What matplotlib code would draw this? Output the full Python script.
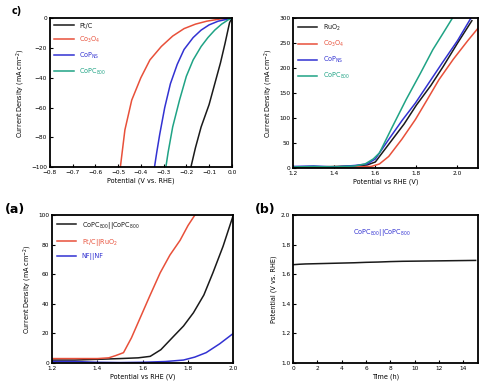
import numpy as np
import matplotlib.pyplot as plt

# HER polarisation curves (panel c)
her_ptc_x = [0, -0.01, -0.03, -0.05, -0.075, -0.10, -0.135, -0.16, -0.18]
her_ptc_y = [0, -3, -17, -30, -44, -58, -73, -87, -100]
her_red_x = [0, -0.05, -0.11, -0.16, -0.21, -0.26, -0.31, -0.36, -0.40, -0.44, -0.47, -0.49]
her_red_y = [0, -0.5, -2, -4, -7, -12, -19, -28, -40, -55, -75, -100]
her_blue_x = [0, -0.06, -0.10, -0.135, -0.17, -0.21, -0.24, -0.27, -0.295, -0.317, -0.33, -0.34]
her_blue_y = [0, -2, -4.5, -8, -13, -21, -31, -44, -60, -78, -90, -100]
her_teal_x = [0, -0.015, -0.045, -0.075, -0.105, -0.135, -0.17, -0.2, -0.23, -0.26, -0.28, -0.29]
her_teal_y = [0, -1, -4, -8, -13, -19, -28, -39, -55, -73, -90, -100]

# OER polarisation curves (top right)
oer_teal_x = [1.2, 1.3, 1.4, 1.5, 1.55, 1.59, 1.62, 1.68, 1.75, 1.82, 1.88, 1.93, 1.975]
oer_teal_y = [2, 3, 2, 4, 8, 18, 30, 80, 137, 190, 237, 270, 300]
oer_blue_x = [1.2, 1.3, 1.4, 1.5, 1.56, 1.6, 1.665, 1.73, 1.795, 1.86, 1.925, 2.0, 2.065]
oer_blue_y = [3, 4, 2, 5, 8, 18, 57, 95, 130, 170, 210, 255, 300]
oer_ruo2_x = [1.2, 1.3, 1.4, 1.5, 1.56, 1.6, 1.67, 1.74, 1.80, 1.87, 1.93, 2.0, 2.07]
oer_ruo2_y = [1, 2, 3, 4, 6, 12, 50, 88, 126, 165, 203, 250, 295]
oer_red_x = [1.2, 1.3, 1.4, 1.5, 1.58, 1.62, 1.665, 1.73, 1.795, 1.85, 1.91, 1.98, 2.05, 2.1]
oer_red_y = [0, 1, 1, 2, 3, 8, 23, 58, 97, 135, 177, 218, 255, 280]

# overall water splitting (panel a)
ws_black_x = [1.2, 1.3, 1.4, 1.5, 1.58, 1.633, 1.68, 1.736, 1.78, 1.824, 1.87, 1.91, 1.955, 2.0]
ws_black_y = [2, 2, 2.5, 3, 3.5, 4.5, 9, 18, 25, 34, 46, 61, 79, 100]
ws_red_x = [1.2, 1.3, 1.4, 1.45, 1.48, 1.515, 1.55, 1.59, 1.63, 1.677, 1.72, 1.765, 1.80, 1.83]
ws_red_y = [3, 3, 3, 3.5, 5, 7, 17, 31, 45, 61, 73, 83, 93, 100]
ws_blue_x = [1.2, 1.3, 1.4, 1.5, 1.6, 1.7, 1.78, 1.83, 1.88, 1.94, 2.0]
ws_blue_y = [1, 1, 0.5, 0.3, 0.5, 1, 2, 4, 7, 13, 20]

# stability test (panel b)
time_h = [0, 0.5, 1, 2, 3, 4, 5, 6, 7, 8, 9, 10, 11, 12, 13, 14, 15]
volt = [1.665, 1.668, 1.670, 1.672, 1.674, 1.676, 1.678, 1.681, 1.683, 1.686,
        1.688, 1.689, 1.690, 1.691, 1.692, 1.693, 1.694]

BLACK = '#1a1a1a'
RED = '#e8503a'
BLUE = '#3232d2'
TEAL = '#1fa385'

plt.rcParams['font.family'] = 'DejaVu Sans'
fs = 4.2

fig = plt.figure(figsize=(4.79, 3.87), dpi=100)
ax1 = fig.add_axes([0.104, 0.568, 0.380, 0.385])
ax2 = fig.add_axes([0.612, 0.566, 0.386, 0.387])
ax3 = fig.add_axes([0.109, 0.062, 0.378, 0.382])
ax4 = fig.add_axes([0.612, 0.062, 0.386, 0.382])


def style(ax):
    for s in ax.spines.values():
        s.set_linewidth(1.3)
    ax.tick_params(direction='in', labelsize=fs, width=0.8, length=2.5, pad=2)


# panel c
ax1.plot(her_ptc_x, her_ptc_y, color=BLACK, lw=1.1, label='Pt/C')
ax1.plot(her_red_x, her_red_y, color=RED, lw=1.1, label='Co$_3$O$_4$')
ax1.plot(her_blue_x, her_blue_y, color=BLUE, lw=1.1, label='CoP$_{\\rm NS}$')
ax1.plot(her_teal_x, her_teal_y, color=TEAL, lw=1.1, label='CoPC$_{\\rm 800}$')
ax1.set_xlim(-0.8, 0.0)
ax1.set_ylim(-100, 0)
ax1.set_xticks(np.arange(-0.8, 0.01, 0.1))
ax1.set_yticks([-100, -80, -60, -40, -20, 0])
ax1.set_xlabel('Potential (V vs. RHE)', fontsize=fs + 0.5, labelpad=2)
ax1.set_ylabel('Current Density (mA cm$^{-2}$)', fontsize=fs + 0.5, labelpad=3)
ax1.legend(loc='upper left', fontsize=fs + 0.5, frameon=False, handlelength=3,
           labelcolor='linecolor', borderaxespad=0.3, labelspacing=0.9)
style(ax1)

# OER
ax2.plot(oer_ruo2_x, oer_ruo2_y, color=BLACK, lw=1.1, label='RuO$_2$')
ax2.plot(oer_red_x, oer_red_y, color=RED, lw=1.1, label='Co$_3$O$_4$')
ax2.plot(oer_blue_x, oer_blue_y, color=BLUE, lw=1.1, label='CoP$_{\\rm NS}$')
ax2.plot(oer_teal_x, oer_teal_y, color=TEAL, lw=1.1, label='CoPC$_{\\rm 800}$')
ax2.set_xlim(1.2, 2.1)
ax2.set_ylim(0, 300)
ax2.set_xticks([1.2, 1.4, 1.6, 1.8, 2.0])
ax2.set_yticks([0, 50, 100, 150, 200, 250, 300])
ax2.set_xlabel('Potential vs RHE (V)', fontsize=fs + 0.5, labelpad=2)
ax2.set_ylabel('Current Density (mA cm$^{-2}$)', fontsize=fs + 0.5, labelpad=3)
ax2.legend(loc='upper left', fontsize=fs + 0.5, frameon=False, handlelength=3,
           labelcolor='linecolor', borderaxespad=0.3, labelspacing=0.9)
style(ax2)

# panel a
ax3.plot(ws_black_x, ws_black_y, color=BLACK, lw=1.1,
         label='CoPC$_{800}$||CoPC$_{800}$')
ax3.plot(ws_red_x, ws_red_y, color=RED, lw=1.1, label='Pt/C||RuO$_2$')
ax3.plot(ws_blue_x, ws_blue_y, color=BLUE, lw=1.1, label='NF||NF')
ax3.set_xlim(1.2, 2.0)
ax3.set_ylim(0, 100)
ax3.set_xticks([1.2, 1.4, 1.6, 1.8, 2.0])
ax3.set_yticks([0, 20, 40, 60, 80, 100])
ax3.set_xlabel('Potential vs RHE (V)', fontsize=fs + 0.5, labelpad=2)
ax3.set_ylabel('Current Density (mA cm$^{-2}$)', fontsize=fs + 0.5, labelpad=3)
ax3.legend(loc='upper left', fontsize=fs + 0.5, frameon=False, handlelength=3,
           labelcolor='linecolor', borderaxespad=0.3, labelspacing=0.9)
style(ax3)

# panel b
ax4.plot(time_h, volt, color=BLACK, lw=1.1)
ax4.set_xlim(0, 15.2)
ax4.set_ylim(1.0, 2.0)
ax4.set_xticks([0, 2, 4, 6, 8, 10, 12, 14])
ax4.set_yticks([1.0, 1.2, 1.4, 1.6, 1.8, 2.0])
ax4.set_xlabel('Time (h)', fontsize=fs + 0.5, labelpad=2)
ax4.set_ylabel('Potential (V vs. RHE)', fontsize=fs + 0.5, labelpad=3)
ax4.text(7.3, 1.88, 'CoPC$_{800}$||CoPC$_{800}$', color=BLUE, fontsize=fs + 0.5,
         ha='center', va='center')
style(ax4)

fig.text(0.025, 0.965, 'c)', fontsize=7, fontweight='bold')
fig.text(0.01, 0.45, '(a)', fontsize=9, fontweight='bold')
fig.text(0.532, 0.45, '(b)', fontsize=9, fontweight='bold')

fig.savefig('out.png', dpi=100)
